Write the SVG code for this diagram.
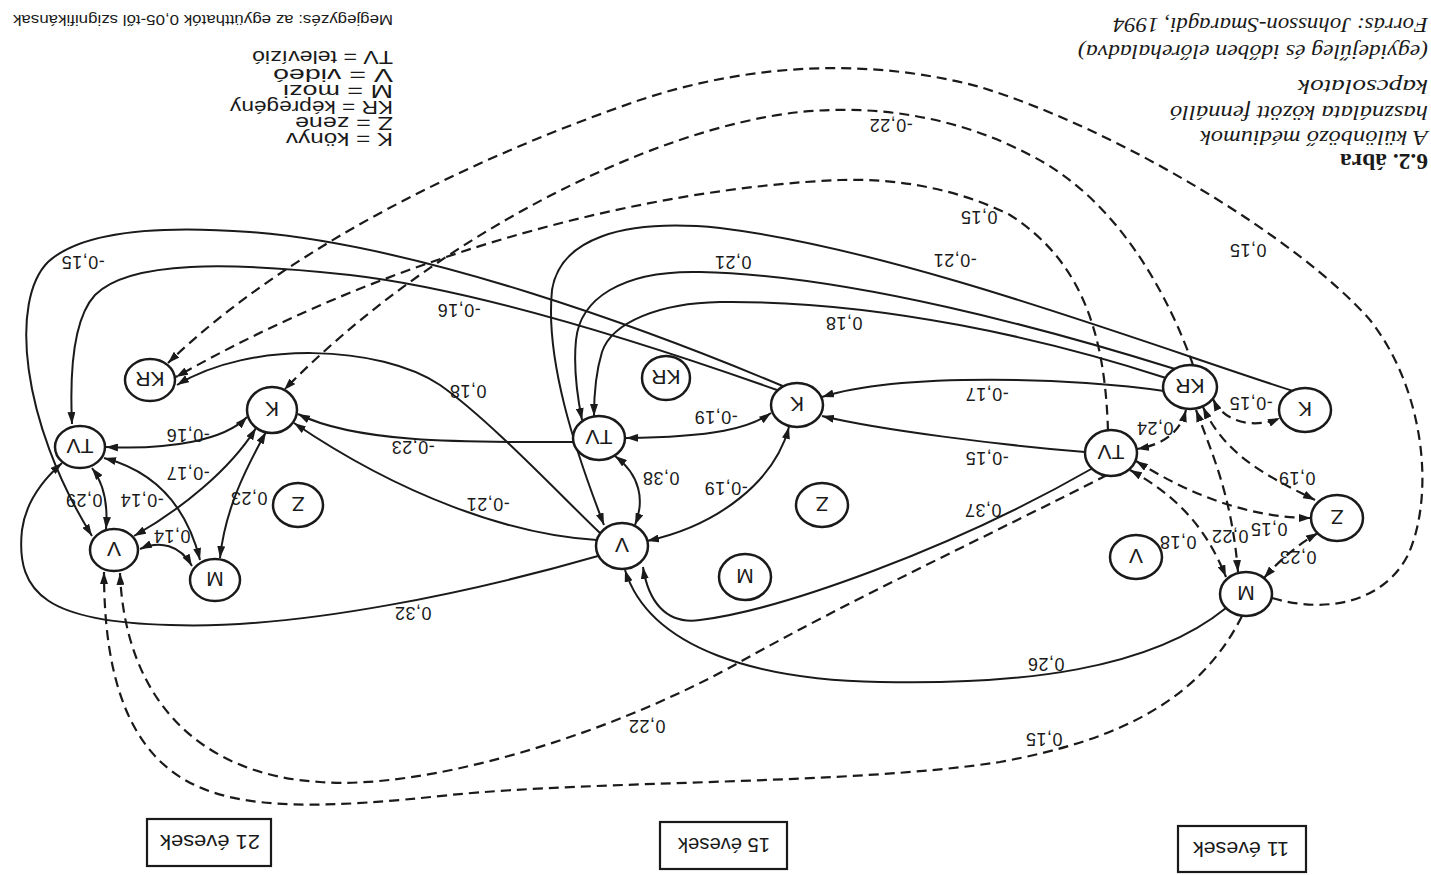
<svg xmlns="http://www.w3.org/2000/svg" width="1431" height="875" viewBox="0 0 1431 875">
<style>
.bg{fill:#ffffff}
.nd ellipse{fill:#ffffff;stroke:#1a1a1a;stroke-width:2.5}
.nd text{font-family:"Liberation Sans",Arial,sans-serif;font-size:21px;text-anchor:middle;fill:#1a1a1a}
.e{fill:none;stroke:#1a1a1a;stroke-width:2}
.d{stroke-dasharray:10 6;stroke-width:2.2}
.lb{font-family:"Liberation Sans",Arial,sans-serif;font-size:18px;text-anchor:middle;fill:#1a1a1a;letter-spacing:0.5px}
.ti{font-family:"Liberation Serif","Times New Roman",serif;font-size:22px;font-style:italic;fill:#1a1a1a}
.tb{font-family:"Liberation Serif","Times New Roman",serif;font-size:23px;font-weight:bold;fill:#1a1a1a}
.lg{font-family:"Liberation Sans",Arial,sans-serif;font-size:17.5px;fill:#1a1a1a}
.box rect{fill:none;stroke:#1a1a1a;stroke-width:2.2}
.box text{font-family:"Liberation Sans",Arial,sans-serif;font-size:20px;text-anchor:middle;fill:#1a1a1a}
</style>
<defs>
<marker id="ah" viewBox="0 0 12 8" refX="12" refY="4" markerWidth="12" markerHeight="8" markerUnits="userSpaceOnUse" orient="auto-start-reverse">
<path d="M0,0 L12,4 L0,8 z" fill="#1a1a1a" stroke="none"/>
</marker>
</defs>
<rect class="bg" x="0" y="0" width="1431" height="875"/>

<g id="title">
<text class="ti" transform="translate(1428,18) rotate(180)" textLength="315" lengthAdjust="spacingAndGlyphs">Forrás: Johnsson-Smaragdi, 1994</text>
<text class="ti" transform="translate(1428,45) rotate(180)" textLength="350" lengthAdjust="spacingAndGlyphs">(egyidejűleg és időben előrehaladva)</text>
<text class="ti" transform="translate(1428,80) rotate(180)" textLength="130" lengthAdjust="spacingAndGlyphs">kapcsolatok</text>
<text class="ti" transform="translate(1428,106) rotate(180)" textLength="258" lengthAdjust="spacingAndGlyphs">használata között fennálló</text>
<text class="ti" transform="translate(1428,131) rotate(180)" textLength="228" lengthAdjust="spacingAndGlyphs">A különböző médiumok</text>
<text class="tb" transform="translate(1428,154) rotate(180)" textLength="88" lengthAdjust="spacingAndGlyphs">6.2. ábra</text>
</g>

<g id="legend">
<text class="lg" style="font-size:15.5px" transform="translate(393,15) rotate(180)" textLength="380" lengthAdjust="spacingAndGlyphs">Megjegyzés: az együtthatók 0,05-től szignifikánsak</text>
<text class="lg" transform="translate(393,51) rotate(180)" textLength="141" lengthAdjust="spacingAndGlyphs">TV = televízió</text>
<text class="lg" transform="translate(393,69) rotate(180)" textLength="120" lengthAdjust="spacingAndGlyphs">V = videó</text>
<text class="lg" transform="translate(393,85) rotate(180)" textLength="110" lengthAdjust="spacingAndGlyphs">M = mozi</text>
<text class="lg" transform="translate(393,101) rotate(180)" textLength="163" lengthAdjust="spacingAndGlyphs">KR = képregény</text>
<text class="lg" transform="translate(393,117) rotate(180)" textLength="98" lengthAdjust="spacingAndGlyphs">Z = zene</text>
<text class="lg" transform="translate(393,133) rotate(180)" textLength="107" lengthAdjust="spacingAndGlyphs">K = könyv</text>
</g>

<g id="connectors">
<!-- 11 cluster internal (dashed) -->
<path class="e d" d="M1213,399 C1225,425 1258,428 1280,418" marker-start="url(#ah)" marker-end="url(#ah)"/>
<path class="e d" d="M1186,410 C1180,432 1165,444 1137,449" marker-start="url(#ah)" marker-end="url(#ah)"/>
<path class="e d" d="M1203,407 C1225,455 1265,475 1315,500" marker-start="url(#ah)" marker-end="url(#ah)"/>
<path class="e d" d="M1196,410 C1215,460 1232,500 1238,572" marker-start="url(#ah)" marker-end="url(#ah)"/>
<path class="e d" d="M1136,461 C1190,495 1250,518 1311,518" marker-start="url(#ah)" marker-end="url(#ah)"/>
<path class="e d" d="M1130,470 C1175,495 1205,525 1226,577" marker-start="url(#ah)" marker-end="url(#ah)"/>
<path class="e d" d="M1264,578 C1280,560 1297,545 1318,533" marker-start="url(#ah)" marker-end="url(#ah)"/>
<!-- 11 -> 21 dashed -->
<path class="e d" d="M1272,598 C1330,615 1385,600 1408,555 C1435,495 1425,390 1370,320 C1300,240 1120,130 980,87 C880,60 760,60 640,100 C480,155 290,245 168,363" marker-end="url(#ah)"/>
<path class="e d" d="M1193,365 C1170,300 1120,200 1030,155 C960,118 880,104 800,112 C650,128 430,240 284,390" marker-end="url(#ah)"/>
<path class="e d" d="M1108,431 C1105,330 1080,260 1010,215 C960,190 900,178 840,180 C650,188 400,250 176,377" marker-end="url(#ah)"/>
<path class="e d" d="M1107,475 C1000,530 850,600 740,662 C600,740 420,790 320,782 C200,775 125,700 120,573" marker-end="url(#ah)"/>
<path class="e d" d="M1242,616 C1200,700 1120,740 1000,762 C850,785 600,780 450,795 C330,808 240,812 185,780 C130,748 104,680 104,572" marker-end="url(#ah)"/>
<!-- 11 -> 15 solid -->
<path class="e" d="M1293,391 C1150,345 900,250 720,228 C620,218 560,240 552,290 C545,360 575,450 604,525" marker-end="url(#ah)"/>
<path class="e" d="M1175,369 C1050,330 850,275 700,272 C620,270 580,300 576,340 C573,370 578,400 582,420" marker-end="url(#ah)"/>
<path class="e" d="M1166,378 C1050,340 880,300 720,302 C660,303 612,322 602,352 C595,375 594,395 594,416" marker-end="url(#ah)"/>
<path class="e" d="M1164,391 C1080,378 900,372 822,397" marker-end="url(#ah)"/>
<path class="e" d="M1085,452 C1000,445 880,430 822,416" marker-end="url(#ah)"/>
<path class="e" d="M1093,468 C950,550 780,610 700,620 C665,625 648,600 643,567" marker-end="url(#ah)"/>
<path class="e" d="M1226,608 C1150,670 1020,685 880,682 C760,680 650,650 625,570" marker-end="url(#ah)"/>
<!-- 15 internal -->
<path class="e" d="M771,413 C750,428 715,437 626,438" marker-start="url(#ah)" marker-end="url(#ah)"/>
<path class="e" d="M789,427 C775,480 720,525 647,541" marker-start="url(#ah)" marker-end="url(#ah)"/>
<path class="e" d="M615,456 C640,475 645,500 635,525" marker-start="url(#ah)" marker-end="url(#ah)"/>
<!-- 15 -> 21 solid -->
<path class="e" d="M777,390 C650,345 480,290 350,275 C230,262 130,260 95,295 C72,320 70,380 72,424" marker-end="url(#ah)"/>
<path class="e" d="M785,387 C650,330 420,245 250,232 C170,226 85,228 48,262 C10,300 20,420 92,536" marker-end="url(#ah)"/>
<path class="e" d="M597,540 C510,535 400,495 294,423" marker-end="url(#ah)"/>
<path class="e" d="M573,442 C480,442 360,445 298,414" marker-end="url(#ah)"/>
<path class="e" d="M600,533 C565,500 490,420 440,385 C380,345 250,340 177,385" marker-end="url(#ah)"/>
<path class="e" d="M598,556 C480,590 300,630 170,625 C50,622 15,595 22,530 C26,500 45,478 62,463" marker-end="url(#ah)"/>
<!-- 21 internal -->
<path class="e" d="M247,417 C225,440 170,450 106,447" marker-start="url(#ah)" marker-end="url(#ah)"/>
<path class="e" d="M256,428 C230,470 180,510 134,536" marker-start="url(#ah)" marker-end="url(#ah)"/>
<path class="e" d="M266,432 C245,470 225,510 220,558" marker-start="url(#ah)" marker-end="url(#ah)"/>
<path class="e" d="M92,468 C105,485 108,505 106,529" marker-start="url(#ah)" marker-end="url(#ah)"/>
<path class="e" d="M104,458 C150,470 185,500 200,560" marker-start="url(#ah)" marker-end="url(#ah)"/>
<path class="e" d="M140,549 C160,540 180,545 192,566" marker-start="url(#ah)" marker-end="url(#ah)"/>
</g>

<g id="edge-labels">
<text class="lb" transform="translate(1251,403) rotate(180)" dy="0.35em">-0,15</text>
<text class="lb" transform="translate(1155,428) rotate(180)" dy="0.35em">0,24</text>
<text class="lb" transform="translate(1297,478) rotate(180)" dy="0.35em">0,19</text>
<text class="lb" transform="translate(1269,529) rotate(180)" dy="0.35em">0,15</text>
<text class="lb" transform="translate(1230,536) rotate(180)" dy="0.35em">0,22</text>
<text class="lb" transform="translate(1178,542) rotate(180)" dy="0.35em">0,18</text>
<text class="lb" transform="translate(1298,557) rotate(180)" dy="0.35em">0,23</text>
<text class="lb" transform="translate(1248,250) rotate(180)" dy="0.35em">0,15</text>
<text class="lb" transform="translate(891,125) rotate(180)" dy="0.35em">-0,22</text>
<text class="lb" transform="translate(979,217) rotate(180)" dy="0.35em">0,15</text>
<text class="lb" transform="translate(955,260) rotate(180)" dy="0.35em">-0,21</text>
<text class="lb" transform="translate(733,262) rotate(180)" dy="0.35em">0,21</text>
<text class="lb" transform="translate(844,323) rotate(180)" dy="0.35em">0,18</text>
<text class="lb" transform="translate(987,394) rotate(180)" dy="0.35em">-0,17</text>
<text class="lb" transform="translate(987,458) rotate(180)" dy="0.35em">-0,15</text>
<text class="lb" transform="translate(983,510) rotate(180)" dy="0.35em">0,37</text>
<text class="lb" transform="translate(716,417) rotate(180)" dy="0.35em">-0,19</text>
<text class="lb" transform="translate(661,478) rotate(180)" dy="0.35em">0,38</text>
<text class="lb" transform="translate(726,488) rotate(180)" dy="0.35em">-0,19</text>
<text class="lb" transform="translate(1046,664) rotate(180)" dy="0.35em">0,26</text>
<text class="lb" transform="translate(647,726) rotate(180)" dy="0.35em">0,22</text>
<text class="lb" transform="translate(1044,739) rotate(180)" dy="0.35em">0,15</text>
<text class="lb" transform="translate(413,613) rotate(180)" dy="0.35em">0,32</text>
<text class="lb" transform="translate(459,310) rotate(180)" dy="0.35em">-0,16</text>
<text class="lb" transform="translate(83,262) rotate(180)" dy="0.35em">-0,15</text>
<text class="lb" transform="translate(468,391) rotate(180)" dy="0.35em">0,18</text>
<text class="lb" transform="translate(413,447) rotate(180)" dy="0.35em">-0,23</text>
<text class="lb" transform="translate(488,504) rotate(180)" dy="0.35em">-0,21</text>
<text class="lb" transform="translate(188,435) rotate(180)" dy="0.35em">-0,16</text>
<text class="lb" transform="translate(188,473) rotate(180)" dy="0.35em">-0,17</text>
<text class="lb" transform="translate(84,500) rotate(180)" dy="0.35em">0,29</text>
<text class="lb" transform="translate(142,500) rotate(180)" dy="0.35em">-0,14</text>
<text class="lb" transform="translate(249,498) rotate(180)" dy="0.35em">0,23</text>
<text class="lb" transform="translate(172,536) rotate(180)" dy="0.35em">0,14</text>
</g>

<g id="n11-K" class="nd"><ellipse cx="1305" cy="410" rx="26" ry="22"/><text transform="translate(1305,410) rotate(180)" dy="0.36em">K</text></g>
<g id="n11-KR" class="nd"><ellipse cx="1190" cy="387" rx="27" ry="22"/><text transform="translate(1190,387) rotate(180)" dy="0.36em">KR</text></g>
<g id="n11-TV" class="nd"><ellipse cx="1111" cy="453" rx="26" ry="23"/><text transform="translate(1111,453) rotate(180)" dy="0.36em">TV</text></g>
<g id="n11-Z" class="nd"><ellipse cx="1337" cy="518" rx="26" ry="23"/><text transform="translate(1337,518) rotate(180)" dy="0.36em">Z</text></g>
<g id="n11-M" class="nd"><ellipse cx="1246" cy="594" rx="26" ry="22"/><text transform="translate(1246,594) rotate(180)" dy="0.36em">M</text></g>
<g id="n11-V" class="nd"><ellipse cx="1136" cy="557" rx="26" ry="22"/><text transform="translate(1136,557) rotate(180)" dy="0.36em">V</text></g>

<g id="n15-K" class="nd"><ellipse cx="797" cy="405" rx="26" ry="22"/><text transform="translate(797,405) rotate(180)" dy="0.36em">K</text></g>
<g id="n15-KR" class="nd"><ellipse cx="666" cy="378" rx="24" ry="22"/><text transform="translate(666,378) rotate(180)" dy="0.36em">KR</text></g>
<g id="n15-TV" class="nd"><ellipse cx="599" cy="438" rx="26" ry="22"/><text transform="translate(599,438) rotate(180)" dy="0.36em">TV</text></g>
<g id="n15-Z" class="nd"><ellipse cx="822" cy="505" rx="26" ry="22"/><text transform="translate(822,505) rotate(180)" dy="0.36em">Z</text></g>
<g id="n15-V" class="nd"><ellipse cx="622" cy="546" rx="26" ry="23"/><text transform="translate(622,546) rotate(180)" dy="0.36em">V</text></g>
<g id="n15-M" class="nd"><ellipse cx="745" cy="577" rx="26" ry="23"/><text transform="translate(745,577) rotate(180)" dy="0.36em">M</text></g>

<g id="n21-KR" class="nd"><ellipse cx="150" cy="380" rx="25" ry="21"/><text transform="translate(150,380) rotate(180)" dy="0.36em">KR</text></g>
<g id="n21-K" class="nd"><ellipse cx="272" cy="410" rx="25" ry="23"/><text transform="translate(272,410) rotate(180)" dy="0.36em">K</text></g>
<g id="n21-TV" class="nd"><ellipse cx="80" cy="447" rx="25" ry="21"/><text transform="translate(80,447) rotate(180)" dy="0.36em">TV</text></g>
<g id="n21-Z" class="nd"><ellipse cx="298" cy="505" rx="25" ry="22"/><text transform="translate(298,505) rotate(180)" dy="0.36em">Z</text></g>
<g id="n21-V" class="nd"><ellipse cx="114" cy="550" rx="24" ry="21"/><text transform="translate(114,550) rotate(180)" dy="0.36em">V</text></g>
<g id="n21-M" class="nd"><ellipse cx="215" cy="580" rx="25" ry="21"/><text transform="translate(215,580) rotate(180)" dy="0.36em">M</text></g>

<g id="box-21" class="box"><rect x="147" y="819" width="124" height="47"/><text transform="translate(210,842) rotate(180)" dy="0.36em" textLength="100" lengthAdjust="spacingAndGlyphs">21 évesek</text></g>
<g id="box-15" class="box"><rect x="660" y="822" width="127" height="47"/><text transform="translate(724,845) rotate(180)" dy="0.36em" textLength="92" lengthAdjust="spacingAndGlyphs">15 évesek</text></g>
<g id="box-11" class="box"><rect x="1178" y="826" width="128" height="46"/><text transform="translate(1241,849) rotate(180)" dy="0.36em" textLength="96" lengthAdjust="spacingAndGlyphs">11 évesek</text></g>
</svg>
